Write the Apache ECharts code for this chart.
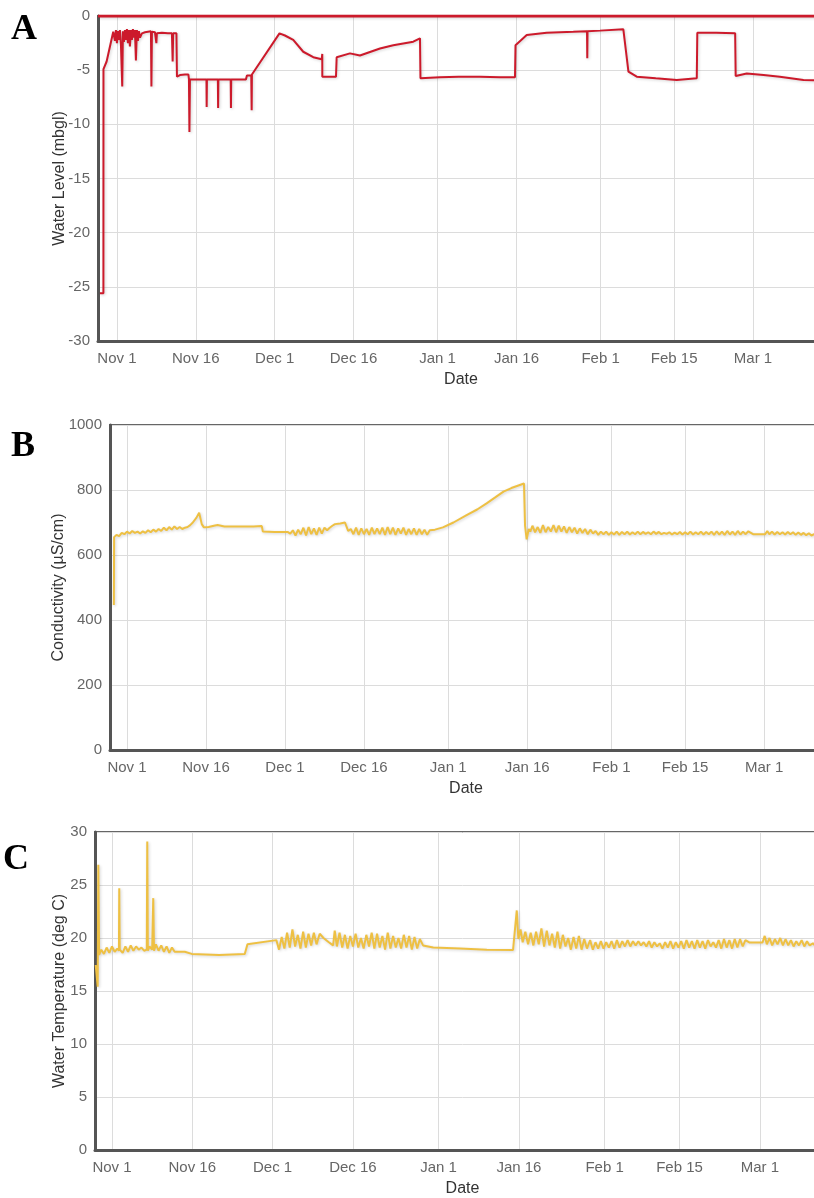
<!DOCTYPE html>
<html>
<head>
<meta charset="utf-8">
<script src="https://cdn.jsdelivr.net/npm/echarts@6/dist/echarts.min.js"></script>
<style>
  html, body { margin: 0; padding: 0; background: #fff; overflow: hidden; }
  /* the plots run a little past the right edge of the page */
  #chart { width: 832px; height: 1198px; }
</style>
</head>
<body>
<div id="chart"></div>
<script>
// Days counted from 1 Nov 2019; Feb 2020 has 29 days.
const tickDays = [0, 15, 30, 45, 61, 76, 92, 106, 121];
const tickLabels = ['Nov 1', 'Nov 16', 'Dec 1', 'Dec 16', 'Jan 1', 'Jan 16', 'Feb 1', 'Feb 15', 'Mar 1'];

// Water level below ground, metres (negative = below ground level)
const waterLevel = [
  [-3.23, -25.6], [-2.57, -25.6], [-2.56, -4.9], [-1.96, -4.2], [-0.70, -1.45],
  [-0.57, -1.4], [-0.38, -2.3], [-0.19, -1.3], [0.0, -2.5], [0.19, -1.4], [0.38, -2.2],
  [0.57, -1.3], [0.76, -2.6], [1.01, -6.5], [1.14, -1.4], [1.33, -2.4], [1.52, -1.3],
  [1.71, -2.2], [1.90, -1.2], [2.09, -2.5], [2.28, -1.3], [2.47, -2.8], [2.66, -1.3],
  [2.85, -2.2], [3.04, -1.2], [3.23, -2.0], [3.42, -1.3], [3.61, -4.1], [3.80, -1.3],
  [3.99, -2.3], [4.18, -1.4], [4.38, -2.0], [4.76, -1.6], [5.33, -1.5], [5.90, -1.45],
  [6.47, -1.4], [6.56, -6.5], [6.66, -1.45], [7.23, -1.5], [7.50, -2.5], [7.60, -1.6],
  [8.56, -1.55], [9.70, -1.6], [10.46, -1.6], [10.60, -4.2], [10.70, -1.6], [11.32, -1.6],
  [11.42, -5.6], [11.99, -5.45], [12.94, -5.4], [13.60, -5.4], [13.70, -5.85], [13.79, -10.7],
  [13.89, -5.85], [17.03, -5.85], [17.07, -8.4], [17.12, -5.85], [19.20, -5.85], [19.25, -8.5],
  [19.30, -5.85], [21.64, -5.85], [21.69, -8.5], [21.74, -5.85], [24.54, -5.85], [24.73, -5.5],
  [25.55, -5.5], [25.63, -8.7], [25.68, -5.4], [30.92, -1.6], [31.96, -1.8], [33.54, -2.2],
  [35.44, -3.3], [37.35, -3.8], [38.95, -4.0], [39.06, -3.5], [39.07, -5.6], [41.67, -5.6],
  [41.80, -3.8], [44.33, -3.45], [46.23, -3.65], [50.04, -3.0], [52.57, -2.7], [56.37, -2.37],
  [57.65, -2.06], [57.74, -5.75], [61.45, -5.65], [65.0, -5.6], [69.06, -5.6], [72.87, -5.65],
  [75.72, -5.65], [75.82, -2.7], [77.95, -1.75], [81.75, -1.54], [86.81, -1.45], [89.42, -1.4],
  [89.47, -3.9], [89.52, -1.4], [91.90, -1.35], [96.33, -1.23], [96.56, -1.3], [97.30, -5.14],
  [98.88, -5.6], [102.5, -5.75], [106.5, -5.9], [110.3, -5.75], [110.4, -1.54], [114.0, -1.55],
  [117.6, -1.6], [117.7, -5.54], [119.8, -5.3], [123.0, -5.45], [126.1, -5.6], [130.6, -5.9],
  [134.5, -5.95]
];
// Ground surface reference
const groundLevel = [[-3.6, 0], [134.5, 0]];

// Specific conductivity, µS/cm
const conductivity = [
  [-2.50, 446], [-2.45, 655], [-2.0, 662], [-1.5, 658], [-1.0, 668], [-0.5, 664], [0, 672],
  [0.5, 666], [1, 674], [1.5, 668], [2, 672], [2.5, 666], [3, 673], [3.5, 668], [4, 676],
  [4.5, 670], [5, 678], [5.5, 672], [6, 680], [6.5, 674], [7, 684], [7.5, 676], [8, 686],
  [8.5, 678], [9, 688], [9.5, 680], [10, 686], [10.5, 680], [11, 684], [11.5, 686], [12, 692],
  [12.5, 700], [13.2, 715], [13.7, 730], [14.2, 695], [14.6, 685], [15.5, 686], [16.5, 690],
  [17.2, 692], [18.5, 688], [20, 688], [22, 688], [24, 688], [25.6, 689], [25.8, 672],
  [28, 671], [30.5, 671], [31, 666], [31.5, 676], [32, 660], [32.5, 678], [33, 664], [33.5, 684],
  [34, 660], [34.5, 686], [35, 664], [35.5, 682], [36, 662], [36.5, 684], [37, 666], [37.5, 684],
  [38, 676], [38.5, 684], [39, 690], [39.5, 695], [40.5, 697], [41.4, 700], [42, 674],
  [42.5, 680], [43, 664], [43.5, 684], [44, 662], [44.5, 682], [45, 664], [45.5, 680], [46, 662],
  [46.5, 684], [47, 664], [47.5, 682], [48, 664], [48.5, 684], [49, 662], [49.5, 686], [50, 664],
  [50.5, 684], [51, 662], [51.5, 682], [52, 666], [52.5, 684], [53, 662], [53.5, 680], [54, 664],
  [54.5, 682], [55, 662], [55.5, 680], [56, 664], [56.5, 678], [57, 662], [57.5, 676],
  [58.5, 678], [60, 685], [62, 700], [64.5, 723], [66.5, 740], [68.3, 759], [70, 778],
  [71.5, 795], [73, 806], [75.4, 820], [75.6, 690], [75.9, 648], [76.3, 680], [76.6, 672],
  [77, 690], [77.5, 670], [78, 686], [78.5, 668], [79, 692], [79.5, 670], [80, 686], [80.5, 672],
  [81, 692], [81.5, 670], [82, 690], [82.5, 672], [83, 688], [83.5, 668], [84, 686], [84.5, 670],
  [85, 684], [85.5, 666], [86, 682], [86.5, 668], [87, 680], [87.5, 664], [88, 678], [88.5, 666],
  [89, 674], [89.5, 662], [90, 672], [90.5, 664], [91, 672], [91.5, 662], [92, 670], [92.5, 663],
  [93, 672], [93.5, 662], [94, 671], [94.5, 664], [95, 672], [95.5, 663], [96, 670], [96.5, 664],
  [97, 672], [97.5, 664], [98, 671], [98.5, 665], [99, 670], [99.5, 664], [100, 672], [100.5, 665],
  [101, 671], [101.5, 664], [102, 668], [102.5, 665], [103, 670], [103.5, 663], [104, 669],
  [104.5, 664], [105, 671], [105.5, 663], [106, 670], [106.5, 664], [107, 672], [107.5, 663],
  [108, 670], [108.5, 664], [109, 672], [109.5, 663], [110, 671], [110.5, 664], [111, 672],
  [111.5, 662], [112, 673], [112.5, 663], [113, 672], [113.5, 662], [114, 674], [114.5, 663],
  [115, 672], [115.5, 662], [116, 674], [116.5, 663], [117, 672], [117.5, 664], [118, 673],
  [118.9, 664], [121.2, 664], [121.6, 674], [122, 664], [122.5, 672], [123, 663], [123.5, 671],
  [124, 664], [124.5, 670], [125, 663], [125.5, 671], [126, 664], [126.5, 670], [127, 662],
  [127.5, 669], [128, 662], [128.5, 668], [129, 661], [129.5, 667], [130, 660], [130.5, 664],
  [131, 659], [132, 660]
];

// Water temperature, deg C
const waterTemp = [
  [-3.04, 17.45], [-2.67, 15.4], [-2.55, 26.9], [-2.40, 18.4], [-2.0, 18.9], [-1.5, 18.5],
  [-1.0, 19.1], [-0.5, 18.6], [0, 19.2], [0.5, 18.7], [1.0, 19.0], [1.30, 18.8], [1.36, 24.7],
  [1.45, 18.9], [2.0, 18.6], [2.5, 19.2], [3.0, 18.7], [3.5, 19.3], [4.0, 18.8], [4.5, 19.2],
  [5.0, 18.9], [5.5, 19.1], [6.0, 18.8], [6.5, 18.9], [6.59, 29.1], [6.70, 18.8], [7.0, 19.2],
  [7.5, 18.9], [7.71, 23.76], [7.85, 18.8], [8.2, 19.4], [8.7, 18.8], [9.2, 19.3], [9.7, 18.7],
  [10.2, 19.2], [10.7, 18.6], [11.2, 19.1], [11.7, 18.7], [13.6, 18.7], [14.9, 18.5],
  [20.0, 18.4], [24.8, 18.5], [25.3, 19.4], [30.7, 19.8], [31.2, 18.9], [31.7, 20.1],
  [32.2, 19.0], [32.7, 20.5], [33.2, 19.1], [33.7, 20.8], [34.2, 19.2], [34.7, 20.3],
  [35.2, 19.0], [35.7, 20.6], [36.2, 19.1], [36.7, 20.4], [37.2, 19.3], [37.7, 20.5],
  [38.2, 19.4], [38.8, 20.4], [39.5, 20.0], [40.5, 19.6], [41.3, 19.3], [41.6, 20.7],
  [42.0, 19.2], [42.5, 20.5], [43.0, 19.1], [43.5, 20.3], [44.0, 19.0], [44.5, 20.2],
  [45.0, 19.2], [45.5, 20.4], [46.0, 19.1], [46.5, 20.0], [47.0, 19.0], [47.5, 20.3],
  [48.0, 19.2], [48.5, 20.5], [49.0, 19.0], [49.5, 20.4], [50.0, 19.1], [50.5, 20.2],
  [51.0, 18.9], [51.5, 20.5], [52.0, 19.0], [52.5, 20.2], [53.0, 19.1], [53.5, 20.0],
  [54.0, 19.0], [54.5, 20.3], [55.0, 19.1], [55.5, 20.2], [56.0, 18.9], [56.5, 20.1],
  [57.0, 19.0], [57.5, 19.9], [58.1, 19.3], [60.0, 19.1], [65.0, 19.0], [70.0, 18.9],
  [74.9, 18.87], [75.6, 22.6], [75.9, 19.9], [76.3, 20.8], [76.7, 19.6], [77.2, 20.6],
  [77.7, 19.4], [78.2, 20.5], [78.7, 19.3], [79.2, 20.6], [79.7, 19.4], [80.2, 20.9],
  [80.7, 19.2], [81.2, 20.7], [81.7, 19.3], [82.2, 20.4], [82.7, 19.1], [83.2, 20.6],
  [83.7, 19.0], [84.2, 20.3], [84.7, 19.2], [85.2, 20.0], [85.7, 18.9], [86.2, 20.1],
  [86.7, 19.0], [87.2, 20.2], [87.7, 18.9], [88.2, 19.9], [88.7, 19.0], [89.3, 19.8],
  [89.8, 18.9], [90.3, 19.6], [90.8, 19.0], [91.3, 19.7], [91.8, 19.0], [92.3, 19.6],
  [92.8, 19.1], [93.3, 19.7], [93.8, 19.0], [94.3, 19.8], [94.8, 19.1], [95.3, 19.7],
  [95.8, 19.2], [96.3, 19.8], [96.8, 19.2], [97.3, 19.7], [97.8, 19.3], [98.3, 19.7],
  [98.8, 19.3], [99.3, 19.6], [99.8, 19.2], [100.3, 19.7], [100.8, 19.1], [101.3, 19.6],
  [101.8, 19.2], [102.3, 19.5], [102.8, 19.0], [103.3, 19.6], [103.8, 19.1], [104.3, 19.7],
  [104.8, 19.0], [105.3, 19.6], [105.8, 19.1], [106.3, 19.7], [106.8, 19.0], [107.3, 19.8],
  [107.8, 19.1], [108.3, 19.7], [108.8, 19.0], [109.3, 19.8], [109.8, 19.1], [110.3, 19.7],
  [110.8, 19.0], [111.3, 19.8], [111.8, 19.2], [112.3, 19.6], [112.8, 19.1], [113.3, 19.8],
  [113.8, 19.0], [114.3, 19.9], [114.8, 19.1], [115.3, 19.8], [115.8, 19.0], [116.3, 19.9],
  [116.8, 19.1], [117.3, 19.9], [117.8, 19.2], [118.3, 19.8], [119.1, 19.57], [121.5, 19.57],
  [121.9, 20.2], [122.3, 19.4], [122.8, 20.0], [123.3, 19.3], [123.8, 19.9], [124.3, 19.4],
  [124.8, 20.0], [125.3, 19.3], [125.8, 19.9], [126.3, 19.3], [126.8, 19.8], [127.3, 19.2],
  [127.8, 19.7], [128.3, 19.3], [128.8, 19.8], [129.3, 19.2], [129.8, 19.7], [130.3, 19.3],
  [130.9, 19.5], [131.5, 19.2], [132.2, 19.5], [133.0, 19.3], [134.0, 19.4]
];

const RED = '#cc1a2b';
const YELLOW = '#eec043';
const FONT = '"Liberation Sans", Arial, sans-serif';
const SERIF = '"Liberation Serif", "Times New Roman", serif';

function xAxisFor(gridIndex, min, max) {
  return {
    gridIndex, type: 'value', min, max,
    name: 'Date', nameLocation: 'middle', nameGap: 31, nameMoveOverlap: false,
    nameTextStyle: { color: '#333', fontSize: 16, fontFamily: FONT },
    axisLine: { show: true, onZero: false, lineStyle: { color: '#555', width: 3 } },
    axisTick: { show: false, customValues: tickDays },
    axisLabel: {
      customValues: tickDays, color: '#666', fontSize: 15, fontFamily: FONT, margin: 10,
      formatter: v => tickLabels[tickDays.indexOf(Math.round(v))] || ''
    },
    splitLine: { show: true, lineStyle: { color: '#dcdcdc', width: 1 } }
  };
}

function yAxisFor(gridIndex, min, max, interval, name, nameGap) {
  return {
    gridIndex, type: 'value', min, max, interval,
    name, nameLocation: 'middle', nameGap, nameMoveOverlap: false,
    nameTextStyle: { color: '#333', fontSize: 16, fontFamily: FONT },
    axisLine: { show: true, onZero: false, lineStyle: { color: '#555', width: 3 } },
    axisTick: { show: false },
    axisLabel: { color: '#666', fontSize: 15, fontFamily: FONT, margin: 8, formatter: v => String(v) },
    splitLine: { show: true, lineStyle: { color: '#dcdcdc', width: 1 } }
  };
}

function lineSeries(xi, data, color, width) {
  return {
    type: 'line', xAxisIndex: xi, yAxisIndex: xi, data,
    showSymbol: false, symbol: 'none', silent: true,
    lineStyle: {
      color, width,
      shadowColor: 'rgba(0,0,0,0.18)', shadowBlur: 3, shadowOffsetX: 1, shadowOffsetY: 1
    }
  };
}

function panelLetter(text, left, top) {
  return {
    type: 'text', left, top,
    style: { text, fontSize: 36, fontWeight: 'bold', fontFamily: SERIF, fill: '#000' }
  };
}

const chart = echarts.init(document.getElementById('chart'), null, { renderer: 'canvas' });
chart.setOption({
  animation: false,
  backgroundColor: '#fff',
  grid: [
    { left: 98, top: 16, right: 8, height: 325, show: true, borderColor: '#666', borderWidth: 2 },
    { left: 110, top: 425, right: 10, height: 325, show: true, borderColor: '#666', borderWidth: 2 },
    { left: 95, top: 832, right: 2, height: 322, show: true, borderColor: '#666', borderWidth: 2 }
  ],
  xAxis: [
    xAxisFor(0, -3.6, 134.5),
    xAxisFor(1, -3.23, 132.0),
    xAxisFor(2, -3.17, 134.1)
  ],
  yAxis: [
    yAxisFor(0, -30, 0, 5, 'Water Level (mbgl)', 30),
    yAxisFor(1, 0, 1000, 200, 'Conductivity (\u00b5S/cm)', 43),
    yAxisFor(2, 0, 30, 5, 'Water Temperature (deg C)', 27)
  ],
  series: [
    lineSeries(0, groundLevel, RED, 3),
    lineSeries(0, waterLevel, RED, 2),
    lineSeries(1, conductivity, YELLOW, 2),
    lineSeries(2, waterTemp, YELLOW, 2)
  ],
  graphic: [
    panelLetter('A', 11, 12),
    panelLetter('B', 11, 429),
    panelLetter('C', 3, 842)
  ]
});
</script>
</body>
</html>
